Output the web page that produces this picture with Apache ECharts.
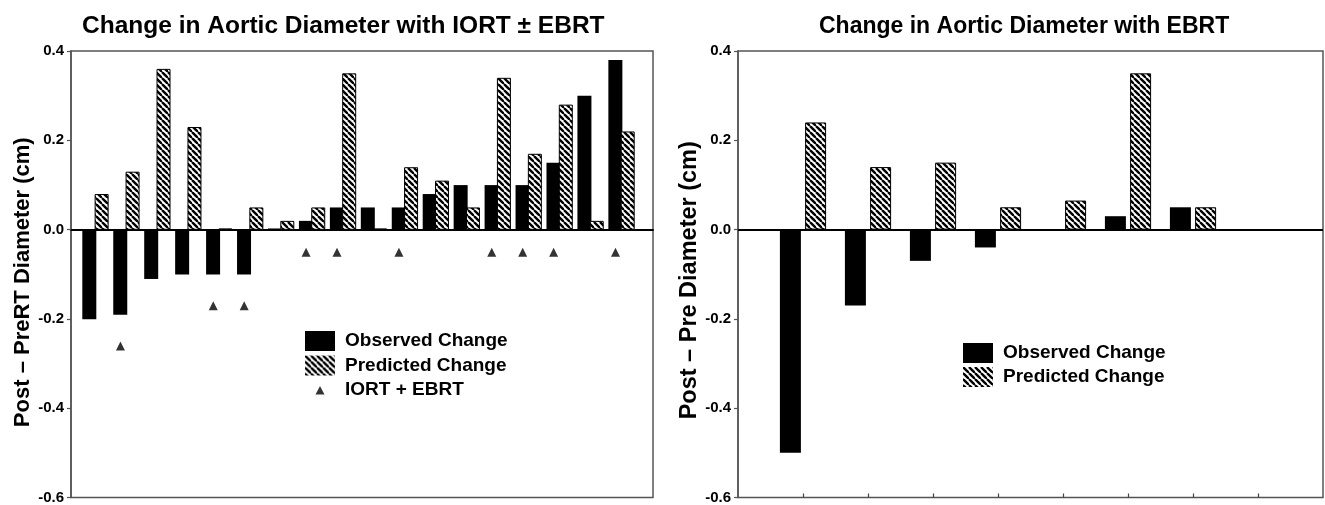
<!DOCTYPE html>
<html>
<head>
<meta charset="utf-8">
<script src="https://cdn.jsdelivr.net/npm/echarts@6/dist/echarts.min.js"></script>
<style>
html,body{margin:0;padding:0;background:#fff;}
#chart{width:1325px;height:505px;}
</style>
</head>
<body>
<div id="chart"></div>
<script>
// ---- Data: left panel (IORT ± EBRT), 18 patients ----
const categoriesL = ['1','2','3','4','5','6','7','8','9','10','11','12','13','14','15','16','17','18'];
const observedL  = [-0.20, -0.19, -0.11, -0.10, -0.10, -0.10, 0.003, 0.02, 0.05, 0.05, 0.05, 0.08, 0.10, 0.10, 0.10, 0.15, 0.30, 0.38];
const predictedL = [0.08, 0.13, 0.36, 0.23, 0.003, 0.05, 0.02, 0.05, 0.35, 0.003, 0.14, 0.11, 0.05, 0.34, 0.17, 0.28, 0.02, 0.22];
const iortL      = [null, -0.26, null, null, -0.17, -0.17, null, -0.05, -0.05, null, -0.05, null, null, -0.05, -0.05, -0.05, null, -0.05];

// ---- Data: right panel (EBRT only), 7 patients on a 0..9 tick scale ----
const categoriesR = ['0','1','2','3','4','5','6','7','8','9'];
const observedR  = [null, -0.50, -0.17, -0.07, -0.04, -0.003, 0.03, 0.05, null, null];
const predictedR = [null, 0.24, 0.14, 0.15, 0.05, 0.065, 0.35, 0.05, null, null];

const yTicks = { min: -0.6, max: 0.4, interval: 0.2 };

const titleL = 'Change in Aortic Diameter with IORT \u00B1 EBRT';
const titleR = 'Change in Aortic Diameter with EBRT';
const yNameL = 'Post \u2013 PreRT Diameter (cm)';
const yNameR = 'Post \u2013 Pre Diameter (cm)';

// hatch pattern
function makeHatch() {
  const s = 6;
  const c = document.createElement('canvas');
  c.width = s; c.height = s;
  const g = c.getContext('2d');
  g.fillStyle = '#fff';
  g.fillRect(0, 0, s, s);
  g.strokeStyle = '#000';
  g.lineWidth = 2.4;
  for (let o = -s; o <= s; o += s) {
    g.beginPath();
    g.moveTo(o, 0);
    g.lineTo(o + s, s);
    g.stroke();
  }
  return c;
}
const hatch = { image: makeHatch(), repeat: 'repeat' };

const FONT = '"Liberation Sans", Arial, sans-serif';
const fmt = v => (Math.abs(v) < 1e-9 ? '0.0' : v.toFixed(1));

function visibleY(gridIndex, name, nameGap, nameSize, shiftDown) {
  return {
    gridIndex, type: 'value', min: yTicks.min, max: yTicks.max, interval: yTicks.interval,
    axisLine: { show: true, lineStyle: { color: '#555', width: 1.5 } },
    axisTick: { show: true, length: 4, lineStyle: { color: '#555', width: 1.2 } },
    axisLabel: { formatter: fmt, color: '#000', fontFamily: FONT, fontWeight: 'bold', fontSize: 15, margin: 7 },
    splitLine: { show: false },
    name, nameLocation: 'middle', nameGap,
    nameTextStyle: { color: '#000', fontFamily: FONT, fontWeight: 'bold', fontSize: nameSize,
      padding: [0, shiftDown * 2, 0, 0] }
  };
}

const legendText = { fontFamily: FONT, fontWeight: 'bold', fontSize: 19, color: '#000', padding: [0, 0, 0, 5] };

const chart = echarts.init(document.getElementById('chart'), null, { renderer: 'canvas' });
chart.setOption({
  animation: false,
  backgroundColor: '#fff',
  title: [
    { text: titleL, left: 82, top: 14, padding: 0,
      textStyle: { fontFamily: FONT, fontWeight: 'bold', fontSize: 24.5, color: '#000' } },
    { text: titleR, left: 819, top: 15, padding: 0,
      textStyle: { fontFamily: FONT, fontWeight: 'bold', fontSize: 23, color: '#000' } }
  ],
  legend: [
    { orient: 'vertical', left: 305, top: 331, padding: 0, itemGap: 4.5,
      itemWidth: 30, itemHeight: 20, icon: 'rect', selectedMode: false,
      textStyle: legendText,
      data: ['Observed Change', { name: 'Predicted Change', itemStyle: { borderWidth: 0 } },
        { name: 'IORT + EBRT', icon: 'path://M0,0M30,20M10.5,14.5L15,6L19.5,14.5Z' }] },
    { orient: 'vertical', left: 963, top: 343, padding: 0, itemGap: 4,
      itemWidth: 30, itemHeight: 20, icon: 'rect', selectedMode: false,
      textStyle: legendText,
      data: ['Observed Change', { name: 'Predicted Change', itemStyle: { borderWidth: 0 } }] }
  ],
  grid: [
    { left: 71, top: 51, width: 582, height: 447, show: true, borderColor: '#555', borderWidth: 1.5, backgroundColor: 'transparent' },
    { left: 80, top: 51, width: 557, height: 447 },
    { left: 738, top: 51, width: 585, height: 447, show: true, borderColor: '#555', borderWidth: 1.5, backgroundColor: 'transparent' }
  ],
  xAxis: [
    { gridIndex: 0, type: 'value', min: 0, max: 1,
      axisLine: { show: true, onZero: true, lineStyle: { color: '#000', width: 2 } },
      axisTick: { show: false }, axisLabel: { show: false }, splitLine: { show: false } },
    { gridIndex: 1, type: 'category', data: categoriesL, show: false },
    { gridIndex: 2, type: 'category', data: categoriesR, boundaryGap: false,
      axisLine: { show: false, onZero: false },
      axisTick: { show: true, inside: true, length: 4, lineStyle: { color: '#444', width: 1.2 },
        interval: (i) => i >= 1 && i <= 8 },
      axisLabel: { show: false }, splitLine: { show: false } }
  ],
  yAxis: [
    visibleY(0, yNameL, 35, 22, 8),
    { gridIndex: 1, type: 'value', min: yTicks.min, max: yTicks.max, show: false },
    visibleY(2, yNameR, 21, 23.5, 6)
  ],
  series: [
    { name: 'Observed Change', type: 'bar', xAxisIndex: 1, yAxisIndex: 1, data: observedL,
      barWidth: 14, barGap: '-12%', itemStyle: { color: '#000' } },
    { name: 'Predicted Change', type: 'bar', xAxisIndex: 1, yAxisIndex: 1, data: predictedL,
      barWidth: 14, barGap: '-12%', itemStyle: { color: hatch, borderColor: '#000', borderWidth: 1 } },
    { name: 'IORT + EBRT', type: 'scatter', xAxisIndex: 1, yAxisIndex: 1, data: iortL,
      symbol: 'triangle', symbolSize: [9, 9], symbolOffset: [-6, 0], itemStyle: { color: '#000' } },
    { name: 'Observed Change', type: 'bar', xAxisIndex: 2, yAxisIndex: 2, data: observedR,
      barWidth: 21, barGap: '20%', itemStyle: { color: '#000' } },
    { name: 'Predicted Change', type: 'bar', xAxisIndex: 2, yAxisIndex: 2, data: predictedR,
      barWidth: 21, barGap: '20%', itemStyle: { color: hatch, borderColor: '#000', borderWidth: 1 },
      markLine: { silent: true, symbol: 'none', label: { show: false },
        lineStyle: { color: '#000', width: 2, type: 'solid' }, data: [{ yAxis: 0 }] } }
  ]
});
</script>
</body>
</html>
